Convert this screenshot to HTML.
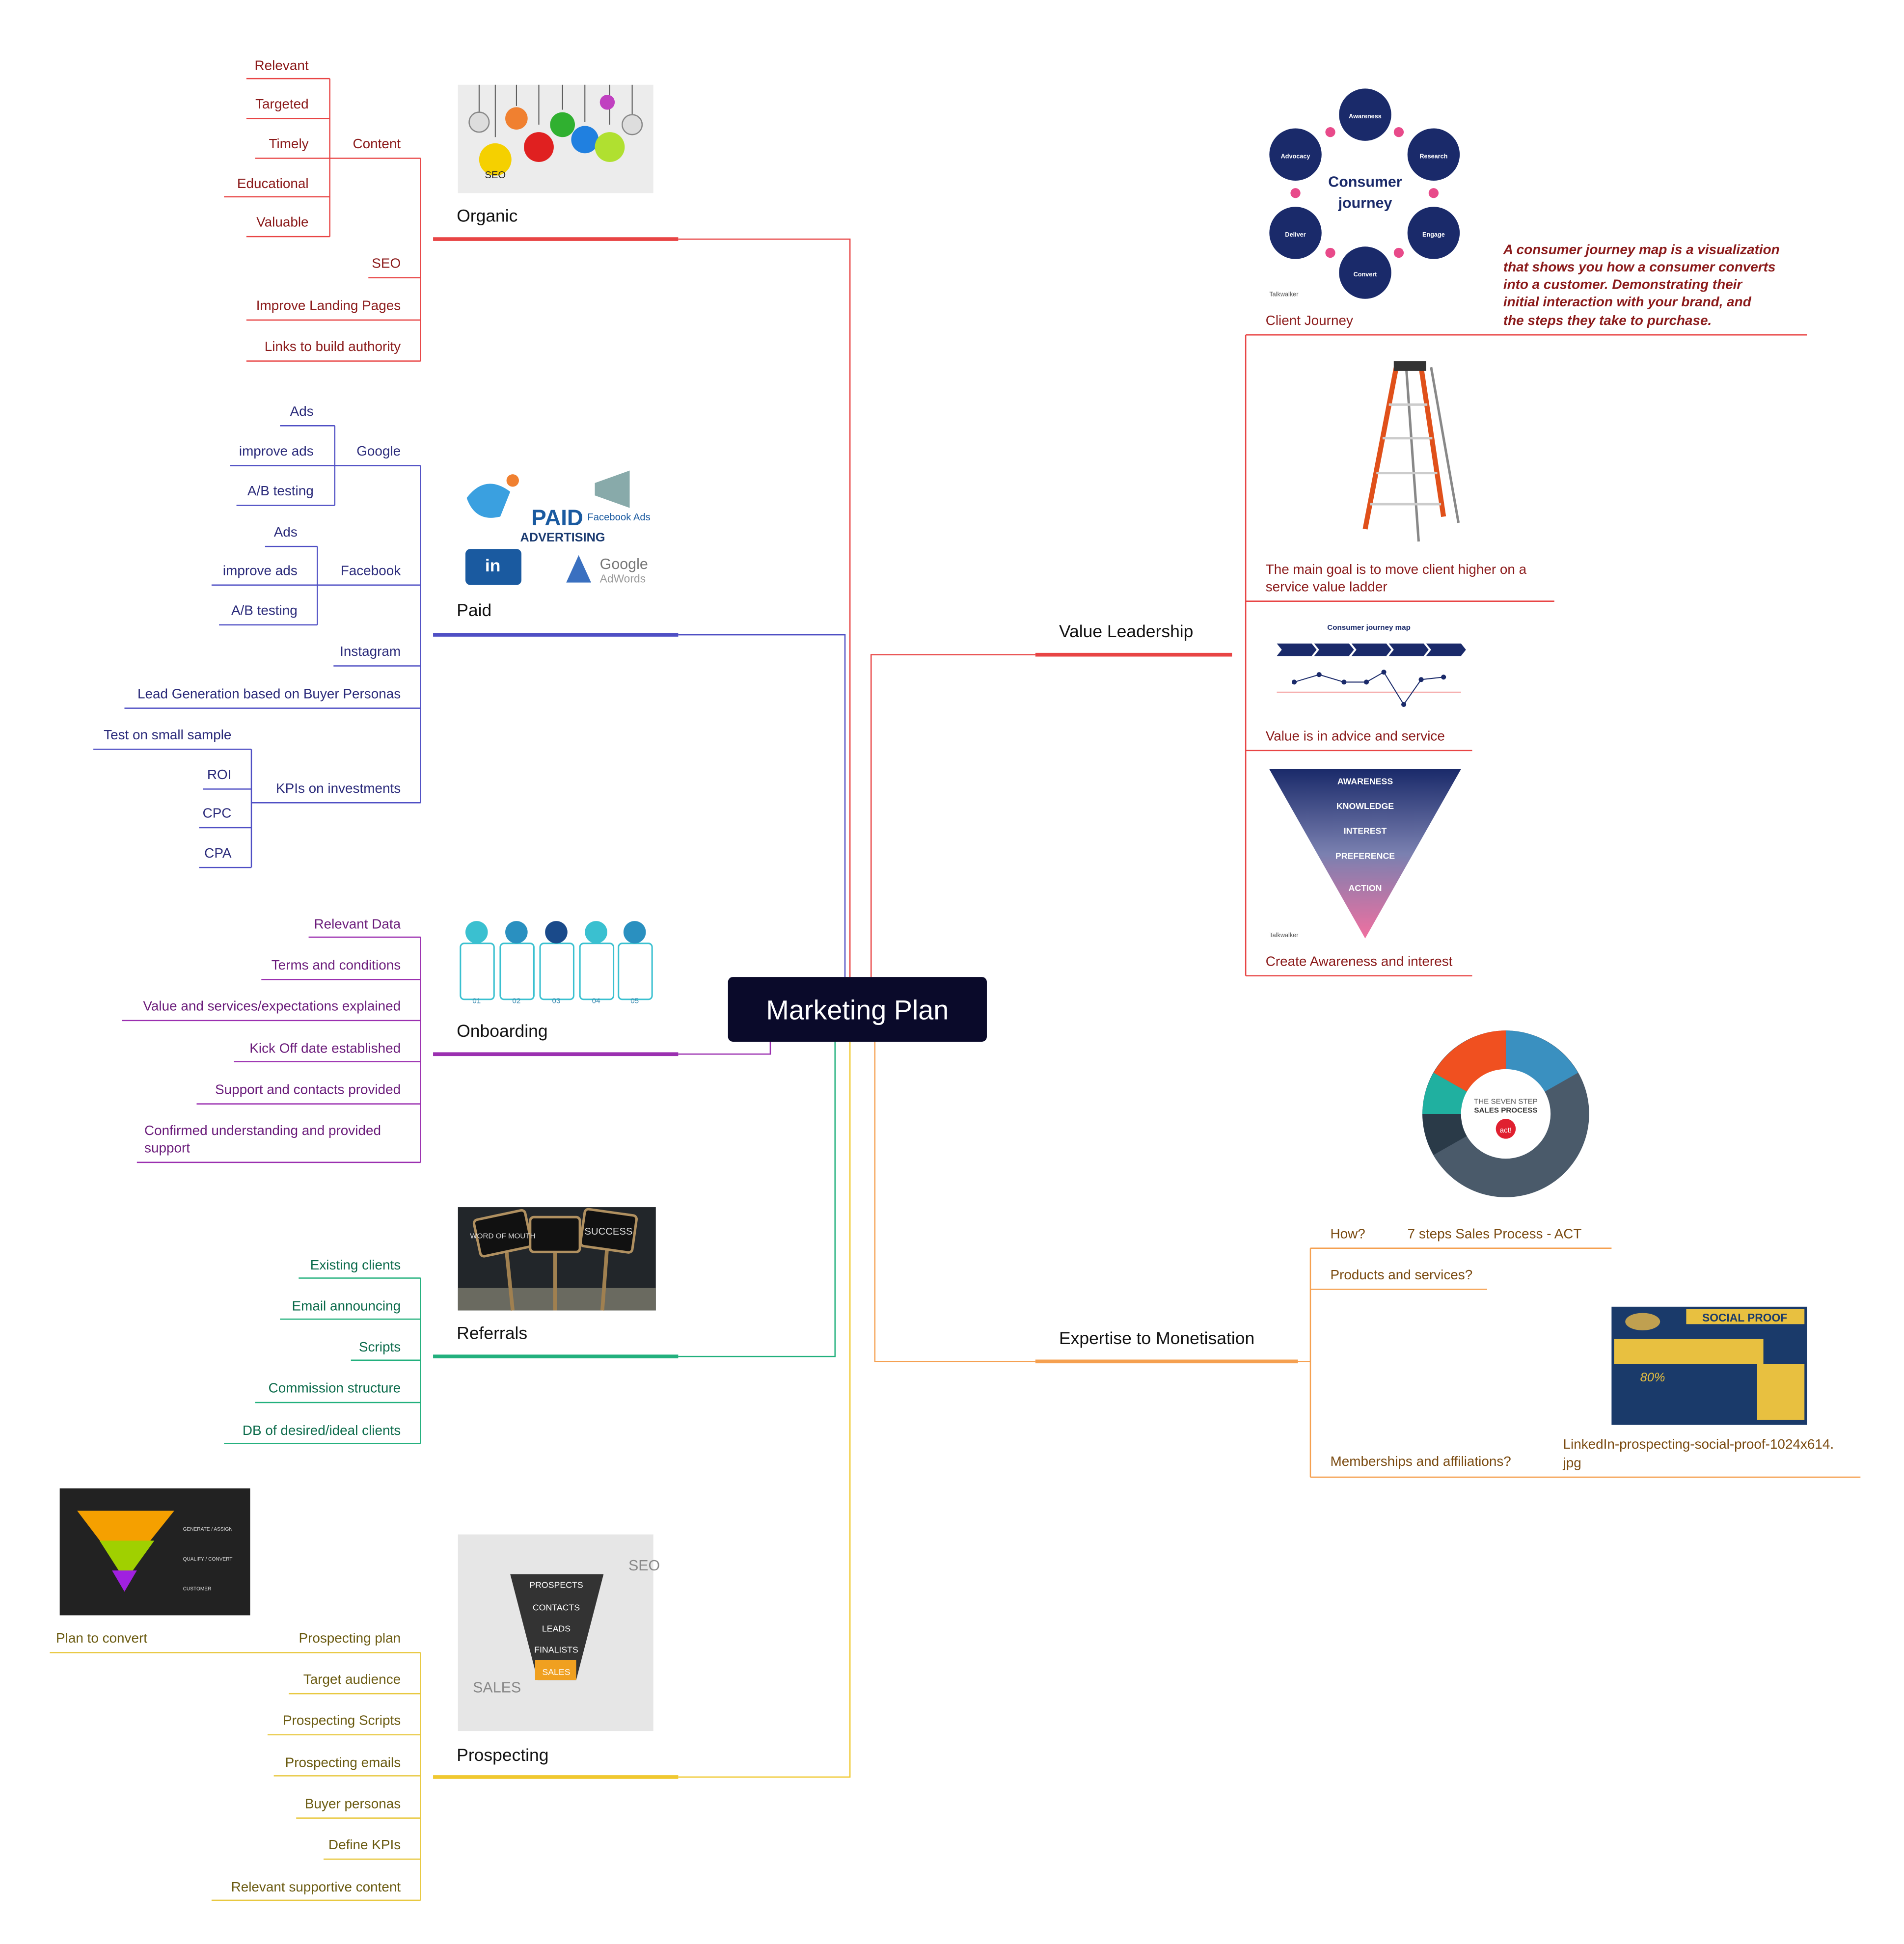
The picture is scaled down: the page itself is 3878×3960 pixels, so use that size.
<!DOCTYPE html>
<html><head><meta charset="utf-8"><style>
html,body{margin:0;padding:0;background:#fff}
svg{display:block}
text{font-family:"Liberation Sans",sans-serif}
</style></head><body>
<svg width="3878" height="3960" viewBox="0 0 1530 1562" xmlns="http://www.w3.org/2000/svg">
<rect width="1530" height="1562" fill="#fff"/>

<!-- ===== Connectors from center ===== -->
<g fill="none" stroke-width="1">
<polyline points="545,192 683,192 683,785" stroke="#e84545"/>
<polyline points="545,510 679,510 679,785" stroke="#4f4fc4"/>
<polyline points="545,847 619,847 619,837" stroke="#9b30b0"/>
<polyline points="545,1090 671,1090 671,837" stroke="#22b07d"/>
<polyline points="545,1428 683,1428 683,837" stroke="#f0c830"/>
<polyline points="700,785 700,526 832,526" stroke="#e84545"/>
<polyline points="703,837 703,1094 832,1094" stroke="#f5a050"/>
</g>

<!-- Central node -->
<rect x="585" y="785" width="208" height="52" rx="4" fill="#0a0a2a"/>
<text x="689" y="819" font-size="22" fill="#fff" text-anchor="middle">Marketing Plan</text>

<!-- ===== ORGANIC ===== -->
<g>
<rect x="368" y="68" width="157" height="87" fill="#ececec"/>
<g stroke="#555" stroke-width="0.8">
<line x1="385" y1="68" x2="385" y2="92"/><line x1="398" y1="68" x2="398" y2="110"/><line x1="415" y1="68" x2="415" y2="85"/><line x1="433" y1="68" x2="433" y2="100"/><line x1="452" y1="68" x2="452" y2="88"/><line x1="470" y1="68" x2="470" y2="98"/><line x1="490" y1="68" x2="490" y2="100"/><line x1="508" y1="68" x2="508" y2="92"/>
</g>
<circle cx="385" cy="98" r="8" fill="#ddd" stroke="#888"/>
<circle cx="398" cy="128" r="13" fill="#f5d000"/><text x="398" y="143" font-size="8" text-anchor="middle" fill="#222">SEO</text>
<circle cx="415" cy="95" r="9" fill="#f08030"/>
<circle cx="433" cy="118" r="12" fill="#e02020"/>
<circle cx="452" cy="100" r="10" fill="#30b030"/>
<circle cx="470" cy="112" r="11" fill="#2080e0"/>
<circle cx="490" cy="118" r="12" fill="#b0e030"/>
<circle cx="508" cy="100" r="8" fill="#ddd" stroke="#888"/>
<circle cx="488" cy="82" r="6" fill="#c040c0"/>
<text x="367" y="178" font-size="14" fill="#111">Organic</text>
<line x1="348" y1="192" x2="545" y2="192" stroke="#e84545" stroke-width="3"/>
<g fill="none" stroke="#e84545" stroke-width="1">
<line x1="338" y1="127" x2="338" y2="290"/>
<line x1="265" y1="127" x2="338" y2="127"/>
<line x1="265" y1="63" x2="265" y2="190"/>
<line x1="198" y1="63" x2="265" y2="63"/><line x1="198" y1="95" x2="265" y2="95"/><line x1="205" y1="127" x2="265" y2="127"/><line x1="180" y1="158" x2="265" y2="158"/><line x1="198" y1="190" x2="265" y2="190"/>
<line x1="296" y1="223" x2="338" y2="223"/><line x1="198" y1="257" x2="338" y2="257"/><line x1="198" y1="290" x2="338" y2="290"/>
</g>
<g font-size="11" fill="#8b1a1a" text-anchor="end">
<text x="322" y="119">Content</text>
<text x="248" y="56">Relevant</text><text x="248" y="87">Targeted</text><text x="248" y="119">Timely</text><text x="248" y="151">Educational</text><text x="248" y="182">Valuable</text>
<text x="322" y="215">SEO</text><text x="322" y="249">Improve Landing Pages</text><text x="322" y="282">Links to build authority</text>
</g>
</g>

<!-- ===== PAID ===== -->
<g>
<path d="M375,400 q15,-20 35,-5 l-8,20 q-20,5 -27,-15z" fill="#3aa0e0"/>
<circle cx="412" cy="386" r="5" fill="#f08030"/>
<path d="M478,388 l28,-10 v30 l-28,-10z" fill="#8aa"/>
<text x="427" y="422" font-size="18" font-weight="bold" fill="#1a5aa0">PAID</text>
<text x="418" y="435" font-size="10" font-weight="bold" fill="#1a3a70">ADVERTISING</text>
<text x="472" y="418" font-size="8" fill="#1a5aa0">Facebook Ads</text>
<rect x="374" y="441" width="45" height="29" rx="4" fill="#1a5aa0"/><text x="396" y="459" font-size="14" font-weight="bold" fill="#fff" text-anchor="middle">in</text>
<path d="M455,468 l10,-22 l10,22z" fill="#3a70c0"/>
<text x="482" y="457" font-size="12" fill="#777">Google</text><text x="482" y="468" font-size="9" fill="#999">AdWords</text>
<text x="367" y="495" font-size="14" fill="#111">Paid</text>
<line x1="348" y1="510" x2="545" y2="510" stroke="#4f4fc4" stroke-width="3"/>
<g fill="none" stroke="#4f4fc4" stroke-width="1">
<line x1="338" y1="374" x2="338" y2="645"/>
<line x1="269" y1="374" x2="338" y2="374"/>
<line x1="269" y1="342" x2="269" y2="406"/>
<line x1="225" y1="342" x2="269" y2="342"/><line x1="185" y1="374" x2="269" y2="374"/><line x1="190" y1="406" x2="269" y2="406"/>
<line x1="255" y1="470" x2="338" y2="470"/>
<line x1="255" y1="439" x2="255" y2="502"/>
<line x1="213" y1="439" x2="255" y2="439"/><line x1="170" y1="470" x2="255" y2="470"/><line x1="176" y1="502" x2="255" y2="502"/>
<line x1="268" y1="535" x2="338" y2="535"/><line x1="100" y1="569" x2="338" y2="569"/>
<line x1="202" y1="645" x2="338" y2="645"/>
<line x1="202" y1="602" x2="202" y2="697"/>
<line x1="75" y1="602" x2="202" y2="602"/><line x1="163" y1="634" x2="202" y2="634"/><line x1="160" y1="665" x2="202" y2="665"/><line x1="160" y1="697" x2="202" y2="697"/>
</g>
<g font-size="11" fill="#2a2a7a" text-anchor="end">
<text x="322" y="366">Google</text>
<text x="252" y="334">Ads</text><text x="252" y="366">improve ads</text><text x="252" y="398">A/B testing</text>
<text x="322" y="462">Facebook</text>
<text x="239" y="431">Ads</text><text x="239" y="462">improve ads</text><text x="239" y="494">A/B testing</text>
<text x="322" y="527">Instagram</text><text x="322" y="561">Lead Generation based on Buyer Personas</text>
<text x="322" y="637">KPIs on investments</text>
<text x="186" y="594">Test on small sample</text><text x="186" y="626">ROI</text><text x="186" y="657">CPC</text><text x="186" y="689">CPA</text>
</g>
</g>

<!-- ===== ONBOARDING ===== -->
<g>
<g stroke="#3ac0d0" fill="#fff" stroke-width="1.2">
<rect x="370" y="758" width="27" height="45" rx="3"/><rect x="402" y="758" width="27" height="45" rx="3"/><rect x="434" y="758" width="27" height="45" rx="3"/><rect x="466" y="758" width="27" height="45" rx="3"/><rect x="497" y="758" width="27" height="45" rx="3"/>
</g>
<circle cx="383" cy="749" r="9" fill="#3ac0d0"/><circle cx="415" cy="749" r="9" fill="#2a90c0"/><circle cx="447" cy="749" r="9" fill="#1a4a8a"/><circle cx="479" cy="749" r="9" fill="#3ac0d0"/><circle cx="510" cy="749" r="9" fill="#2a90c0"/>
<g font-size="6" fill="#3a8ab0" text-anchor="middle"><text x="383" y="806">01</text><text x="415" y="806">02</text><text x="447" y="806">03</text><text x="479" y="806">04</text><text x="510" y="806">05</text></g>
<text x="367" y="833" font-size="14" fill="#111">Onboarding</text>
<line x1="348" y1="847" x2="545" y2="847" stroke="#9b30b0" stroke-width="3"/>
<g fill="none" stroke="#9b30b0" stroke-width="1">
<line x1="338" y1="753" x2="338" y2="934"/>
<line x1="248" y1="753" x2="338" y2="753"/><line x1="210" y1="787" x2="338" y2="787"/><line x1="98" y1="820" x2="338" y2="820"/><line x1="188" y1="853" x2="338" y2="853"/><line x1="158" y1="887" x2="338" y2="887"/><line x1="110" y1="934" x2="338" y2="934"/>
</g>
<g font-size="11" fill="#6a1b7a">
<text x="322" y="746" text-anchor="end">Relevant Data</text><text x="322" y="779" text-anchor="end">Terms and conditions</text><text x="322" y="812" text-anchor="end">Value and services/expectations explained</text><text x="322" y="846" text-anchor="end">Kick Off date established</text><text x="322" y="879" text-anchor="end">Support and contacts provided</text>
<text x="116" y="912">Confirmed understanding and provided</text><text x="116" y="926">support</text>
</g>
</g>

<!-- ===== REFERRALS ===== -->
<g>
<rect x="368" y="970" width="159" height="83" fill="#22262a"/>
<rect x="368" y="1035" width="159" height="18" fill="#6a6a60"/>
<g stroke="#a08050" stroke-width="3"><line x1="407" y1="1005" x2="412" y2="1053"/><line x1="446" y1="1000" x2="446" y2="1053"/><line x1="488" y1="1000" x2="484" y2="1053"/></g>
<g fill="#111" stroke="#b09060" stroke-width="2"><rect x="383" y="976" width="42" height="30" rx="3" transform="rotate(-12 404 991)"/><rect x="426" y="978" width="40" height="28" rx="3"/><rect x="468" y="974" width="42" height="30" rx="3" transform="rotate(8 489 989)"/></g>
<text x="489" y="992" font-size="8" fill="#ddd" text-anchor="middle">SUCCESS</text>
<text x="404" y="995" font-size="6" fill="#ddd" text-anchor="middle">WORD OF MOUTH</text>
<text x="367" y="1076" font-size="14" fill="#111">Referrals</text>
<line x1="348" y1="1090" x2="545" y2="1090" stroke="#22b07d" stroke-width="3"/>
<g fill="none" stroke="#22b07d" stroke-width="1">
<line x1="338" y1="1027" x2="338" y2="1160"/>
<line x1="240" y1="1027" x2="338" y2="1027"/><line x1="225" y1="1060" x2="338" y2="1060"/><line x1="282" y1="1093" x2="338" y2="1093"/><line x1="205" y1="1127" x2="338" y2="1127"/><line x1="180" y1="1160" x2="338" y2="1160"/>
</g>
<g font-size="11" fill="#0a6a4a" text-anchor="end">
<text x="322" y="1020">Existing clients</text><text x="322" y="1053">Email announcing</text><text x="322" y="1086">Scripts</text><text x="322" y="1119">Commission structure</text><text x="322" y="1153">DB of desired/ideal clients</text>
</g>
</g>

<!-- ===== PROSPECTING ===== -->
<g>
<rect x="368" y="1233" width="157" height="158" fill="#e6e6e6"/>
<path d="M410,1265 h75 l-22,85 h-31z" fill="#333"/>
<rect x="430" y="1334" width="33" height="16" fill="#f0a020"/>
<g font-size="7" fill="#fff" text-anchor="middle"><text x="447" y="1276">PROSPECTS</text><text x="447" y="1294">CONTACTS</text><text x="447" y="1311">LEADS</text><text x="447" y="1328">FINALISTS</text><text x="447" y="1346">SALES</text></g>
<text x="380" y="1360" font-size="12" fill="#888">SALES</text><text x="505" y="1262" font-size="12" fill="#888">SEO</text>
<text x="367" y="1415" font-size="14" fill="#111">Prospecting</text>
<line x1="348" y1="1428" x2="545" y2="1428" stroke="#f0c830" stroke-width="3"/>
<rect x="48" y="1196" width="153" height="102" fill="#222"/>
<path d="M62,1214 h78 l-40,50z" fill="#f5a000"/>
<path d="M80,1238 h44 l-18,25 h-10z" fill="#a0d000"/>
<path d="M90,1262 h20 l-10,17z" fill="#a020e0"/>
<g font-size="4" fill="#ddd"><text x="147" y="1230">GENERATE / ASSIGN</text><text x="147" y="1254">QUALIFY / CONVERT</text><text x="147" y="1278">CUSTOMER</text></g>
<g fill="none" stroke="#e8c840" stroke-width="1">
<line x1="338" y1="1328" x2="338" y2="1527"/>
<line x1="40" y1="1328" x2="338" y2="1328"/>
<line x1="232" y1="1361" x2="338" y2="1361"/><line x1="215" y1="1394" x2="338" y2="1394"/><line x1="220" y1="1427" x2="338" y2="1427"/><line x1="238" y1="1461" x2="338" y2="1461"/><line x1="260" y1="1494" x2="338" y2="1494"/><line x1="170" y1="1527" x2="338" y2="1527"/>
</g>
<g font-size="11" fill="#6a5a10">
<text x="45" y="1320">Plan to convert</text>
<g text-anchor="end"><text x="322" y="1320">Prospecting plan</text><text x="322" y="1353">Target audience</text><text x="322" y="1386">Prospecting Scripts</text><text x="322" y="1420">Prospecting emails</text><text x="322" y="1453">Buyer personas</text><text x="322" y="1486">Define KPIs</text><text x="322" y="1520">Relevant supportive content</text></g>
</g>
</g>

<!-- ===== VALUE LEADERSHIP ===== -->
<g>
<text x="851" y="512" font-size="14" fill="#111">Value  Leadership</text>
<line x1="832" y1="526" x2="990" y2="526" stroke="#e84545" stroke-width="3"/>
<g fill="none" stroke="#e84545" stroke-width="1">
<line x1="1001" y1="269" x2="1001" y2="784"/>
<line x1="1001" y1="269" x2="1452" y2="269"/><line x1="1001" y1="483" x2="1249" y2="483"/><line x1="1001" y1="603" x2="1183" y2="603"/><line x1="1001" y1="784" x2="1183" y2="784"/>
</g>
<!-- consumer journey -->
<g fill="#1a2a6a">
<circle cx="1097" cy="92" r="21"/><circle cx="1152" cy="124" r="21"/><circle cx="1152" cy="187" r="21"/><circle cx="1097" cy="219" r="21"/><circle cx="1041" cy="187" r="21"/><circle cx="1041" cy="124" r="21"/>
</g>
<g font-size="5" fill="#fff" text-anchor="middle" font-weight="bold">
<text x="1097" y="95">Awareness</text><text x="1152" y="127">Research</text><text x="1152" y="190">Engage</text><text x="1097" y="222">Convert</text><text x="1041" y="190">Deliver</text><text x="1041" y="127">Advocacy</text>
</g>
<g fill="#e84a8a"><circle cx="1124" cy="106" r="4"/><circle cx="1152" cy="155" r="4"/><circle cx="1124" cy="203" r="4"/><circle cx="1069" cy="203" r="4"/><circle cx="1041" cy="155" r="4"/><circle cx="1069" cy="106" r="4"/></g>
<text x="1097" y="150" font-size="12" font-weight="bold" fill="#1a2a6a" text-anchor="middle">Consumer</text>
<text x="1097" y="167" font-size="12" font-weight="bold" fill="#1a2a6a" text-anchor="middle">journey</text>
<text x="1020" y="238" font-size="5" fill="#555">Talkwalker</text>
<text x="1017" y="261" font-size="11" fill="#8b1a1a">Client Journey</text>
<g font-size="11" font-style="italic" font-weight="bold" fill="#8b1a1a">
<text x="1208" y="204">A consumer journey map is a visualization</text>
<text x="1208" y="218">that shows you how a consumer converts</text>
<text x="1208" y="232">into a customer. Demonstrating their</text>
<text x="1208" y="246">initial interaction with your brand, and</text>
<text x="1208" y="261">the steps they take to purchase.</text>
</g>
<!-- ladder -->
<g stroke="#e0501a" stroke-width="4" fill="none">
<line x1="1122" y1="295" x2="1097" y2="425"/><line x1="1142" y1="295" x2="1160" y2="415"/>
</g>
<g stroke="#888" stroke-width="2"><line x1="1150" y1="295" x2="1172" y2="420"/><line x1="1130" y1="295" x2="1140" y2="435"/></g>
<g stroke="#ccc" stroke-width="2"><line x1="1116" y1="325" x2="1147" y2="325"/><line x1="1111" y1="352" x2="1151" y2="352"/><line x1="1106" y1="380" x2="1155" y2="380"/><line x1="1101" y1="405" x2="1158" y2="405"/></g>
<rect x="1120" y="290" width="26" height="8" fill="#333"/>
<text x="1017" y="461" font-size="11" fill="#8b1a1a">The main goal is to move client higher on a</text>
<text x="1017" y="475" font-size="11" fill="#8b1a1a">service value ladder</text>
<!-- journey map -->
<text x="1100" y="506" font-size="6" font-weight="bold" fill="#1a2a6a" text-anchor="middle">Consumer journey map</text>
<g fill="#1a2a6a">
<path d="M1026,517 h28 l4,5 l-4,5 h-28 l4,-5z"/><path d="M1056,517 h28 l4,5 l-4,5 h-28 l4,-5z"/><path d="M1086,517 h28 l4,5 l-4,5 h-28 l4,-5z"/><path d="M1116,517 h28 l4,5 l-4,5 h-28 l4,-5z"/><path d="M1146,517 h28 l4,5 l-4,5 h-28 l4,-5z"/>
</g>
<line x1="1026" y1="556" x2="1174" y2="556" stroke="#e84545" stroke-width="0.6"/>
<polyline points="1040,548 1060,542 1080,548 1098,548 1112,540 1128,566 1142,546 1160,544" fill="none" stroke="#1a2a6a" stroke-width="0.8"/>
<g fill="#1a2a6a"><circle cx="1040" cy="548" r="2"/><circle cx="1060" cy="542" r="2"/><circle cx="1080" cy="548" r="2"/><circle cx="1098" cy="548" r="2"/><circle cx="1112" cy="540" r="2"/><circle cx="1128" cy="566" r="2"/><circle cx="1142" cy="546" r="2"/><circle cx="1160" cy="544" r="2"/></g>
<text x="1017" y="595" font-size="11" fill="#8b1a1a">Value is in advice and service</text>
<!-- triangle -->
<defs><linearGradient id="tg" x1="0" y1="0" x2="0" y2="1"><stop offset="0" stop-color="#1a2a6a"/><stop offset="0.5" stop-color="#7a80b0"/><stop offset="1" stop-color="#f070a0"/></linearGradient></defs>
<path d="M1020,618 h154 l-77,136z" fill="url(#tg)"/>
<g font-size="7" font-weight="bold" fill="#fff" text-anchor="middle">
<text x="1097" y="630">AWARENESS</text><text x="1097" y="650">KNOWLEDGE</text><text x="1097" y="670">INTEREST</text><text x="1097" y="690">PREFERENCE</text><text x="1097" y="716">ACTION</text>
</g>
<text x="1020" y="753" font-size="5" fill="#555">Talkwalker</text>
<text x="1017" y="776" font-size="11" fill="#8b1a1a">Create Awareness and interest</text>
</g>

<!-- ===== EXPERTISE ===== -->
<g>
<text x="851" y="1080" font-size="14" fill="#111">Expertise to Monetisation</text>
<line x1="832" y1="1094" x2="1043" y2="1094" stroke="#f5a050" stroke-width="3"/>
<g fill="none" stroke="#f5a050" stroke-width="1">
<line x1="1043" y1="1094" x2="1053" y2="1094"/>
<line x1="1053" y1="1003" x2="1053" y2="1187"/>
<line x1="1053" y1="1003" x2="1295" y2="1003"/><line x1="1053" y1="1036" x2="1195" y2="1036"/><line x1="1053" y1="1187" x2="1495" y2="1187"/>
</g>
<!-- sales circle -->
<g>
<circle cx="1210" cy="895" r="67" fill="#4a5a6a"/>
<path d="M1210,895 L1210,828 A67,67 0 0 1 1268,862z" fill="#3a90c0"/>
<path d="M1210,895 L1152,862 A67,67 0 0 1 1210,828z" fill="#f05020"/>
<path d="M1210,895 L1143,895 A67,67 0 0 1 1152,862z" fill="#20b0a0"/>
<path d="M1210,895 L1152,928 A67,67 0 0 1 1143,895z" fill="#2a3a48"/>
<circle cx="1210" cy="895" r="36" fill="#fff"/>
<text x="1210" y="887" font-size="6" fill="#555" text-anchor="middle">THE SEVEN STEP</text>
<text x="1210" y="894" font-size="6" font-weight="bold" fill="#333" text-anchor="middle">SALES PROCESS</text>
<circle cx="1210" cy="907" r="8" fill="#e02030"/><text x="1210" y="910" font-size="6" fill="#fff" text-anchor="middle">act!</text>
</g>
<g font-size="11" fill="#7a4a10">
<text x="1069" y="995">How?</text><text x="1131" y="995">7 steps Sales Process - ACT</text>
<text x="1069" y="1028">Products and services?</text>
<text x="1069" y="1178">Memberships and affiliations?</text>
<text x="1256" y="1164">LinkedIn-prospecting-social-proof-1024x614.</text>
<text x="1256" y="1179">jpg</text>
</g>
<rect x="1295" y="1050" width="157" height="95" fill="#1a3a6a"/>
<rect x="1355" y="1052" width="95" height="12" fill="#e8c040"/>
<text x="1402" y="1062" font-size="9" fill="#1a3a6a" text-anchor="middle" font-weight="bold">SOCIAL PROOF</text>
<rect x="1297" y="1076" width="120" height="20" fill="#e8c040"/>
<rect x="1412" y="1096" width="38" height="45" fill="#e8c040"/>
<ellipse cx="1320" cy="1062" rx="14" ry="7" fill="#c0a050"/>
<text x="1318" y="1110" font-size="10" font-style="italic" fill="#e8c040">80%</text>
</g>
</svg>
</body></html>
